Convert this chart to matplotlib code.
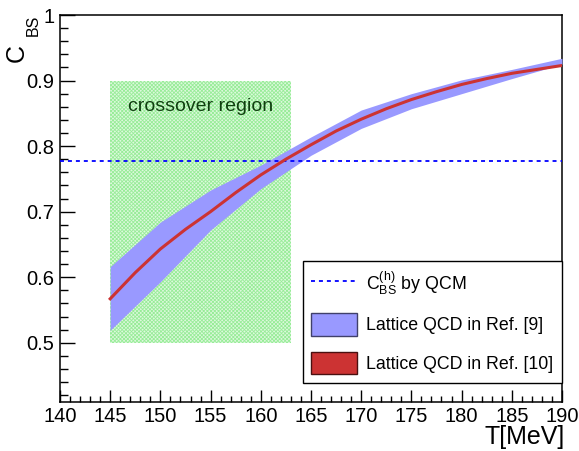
import matplotlib
matplotlib.use('Agg')
import matplotlib.pyplot as plt
from matplotlib.lines import Line2D
from matplotlib.patches import Patch
from matplotlib.ticker import MultipleLocator, FixedFormatter

plt.rcParams['font.family'] = ['Liberation Sans', 'DejaVu Sans']
plt.rcParams['mathtext.fontset'] = 'custom'
plt.rcParams['mathtext.rm'] = 'Liberation Sans'
plt.rcParams['mathtext.it'] = 'Liberation Sans'
plt.rcParams['hatch.linewidth'] = 0.6

# lattice band (Ref. [9])
T_band = [145, 150, 155, 160, 165, 170, 175, 180, 185, 190]
band_hi = [0.616, 0.684, 0.733, 0.771, 0.814, 0.855, 0.880, 0.901, 0.917, 0.934]
band_lo = [0.519, 0.593, 0.672, 0.735, 0.786, 0.827, 0.857, 0.880, 0.903, 0.925]

# lattice curve (Ref. [10])
T_red = [145, 147.5, 150, 152.5, 155, 157.5, 160, 162.5, 165, 167.5,
         170, 172.5, 175, 177.5, 180, 182.5, 185, 187.5, 190]
c_red = [0.567, 0.607, 0.643, 0.673, 0.700, 0.729, 0.756, 0.780, 0.802, 0.823,
         0.841, 0.857, 0.871, 0.883, 0.894, 0.903, 0.911, 0.917, 0.923]

# QCM value and crossover window
c_qcm = 0.777
T_cross = [145, 163]
c_cross = [0.5, 0.9]

fig = plt.figure(figsize=(5.79, 4.51), dpi=100)
ax = fig.add_axes([0.1036, 0.1093, 0.8670, 0.8574])

ax.fill_between(T_cross, c_cross[0], c_cross[1], facecolor='#ddf9dd',
                edgecolor='#98ec98', hatch='x' * 9, linewidth=0, zorder=1)
ax.text(154.0, 0.860, 'crossover region', color='#0f3f0f', fontsize=14,
        ha='center', va='center', zorder=2)

ax.fill_between(T_band, band_lo, band_hi, color='#9999ff', linewidth=0, zorder=3)
ax.axhline(c_qcm, color='#0000ff', linestyle=(0, (2.2, 2.2)), linewidth=1.3, zorder=4)
ax.plot(T_red, c_red, color='#cc3333', linewidth=2.2, zorder=5)

ax.set_xlim(140, 190)
ax.set_ylim(0.41, 1.0)
ax.xaxis.set_major_locator(MultipleLocator(5))
ax.xaxis.set_minor_locator(MultipleLocator(1))
ax.set_yticks([0.5, 0.6, 0.7, 0.8, 0.9, 1.0])
ax.yaxis.set_major_formatter(FixedFormatter(['0.5', '0.6', '0.7', '0.8', '0.9', '1']))
ax.yaxis.set_minor_locator(MultipleLocator(0.02))
ax.tick_params(axis='both', which='both', direction='in', top=False, right=False,
               labelsize=14.5, width=1.0)
ax.tick_params(axis='y', which='major', length=11, pad=4)
ax.tick_params(axis='y', which='minor', length=5.5)
ax.tick_params(axis='x', which='major', length=8.5, pad=4)
ax.tick_params(axis='x', which='minor', length=4)
for s in ax.spines.values():
    s.set_linewidth(1.1)

# y title: big C with a large subscript, rotated
fig.text(17 / 579, 1 - 62 / 451, 'C', rotation=90, fontsize=18,
         ha='center', va='bottom')
fig.text(33 / 579, 1 - 15 / 451, 'BS', rotation=90, fontsize=11.5,
         ha='center', va='top')
fig.text(565 / 579, 1 - 444 / 451, 'T[MeV]', fontsize=18, ha='right', va='baseline')

handles = [
    Line2D([], [], color='#0000ff', linestyle=(0, (2.2, 2.2)), linewidth=1.3),
    Patch(facecolor='#9999ff', edgecolor='#40406a', linewidth=1.0),
    Patch(facecolor='#cc3333', edgecolor='#4a1010', linewidth=1.0),
]
labels = [r'$\mathrm{C}_{\mathrm{BS}}^{(\mathrm{h})}$ by QCM',
          'Lattice QCD in Ref. [9]', 'Lattice QCD in Ref. [10]']
leg = ax.legend(handles, labels, loc='lower right', bbox_to_anchor=(0.9994, 0.0476),
                borderaxespad=0, fontsize=12.8, fancybox=False, framealpha=1,
                edgecolor='black', handlelength=2.55, handleheight=1.6,
                handletextpad=0.5, labelspacing=0.9, borderpad=0.5)
leg.get_frame().set_linewidth(1.0)
leg.set_zorder(10)

fig.savefig('out.png', dpi=100)
